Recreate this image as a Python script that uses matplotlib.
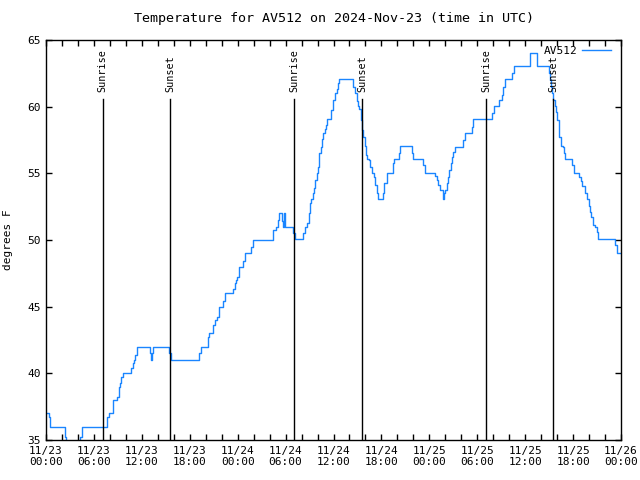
import numpy as np
import matplotlib
matplotlib.use('Agg')
import matplotlib.pyplot as plt

# Temperature readings: hours since 2024-11-23 00:00 UTC, degrees F
hours = [0.00, 0.38, 0.50, 2.34, 2.50, 4.26, 4.55, 7.68, 7.93, 8.43,
         8.93, 9.10, 9.27, 9.43, 9.68, 10.68, 10.85, 11.02, 11.18, 11.36,
         11.43, 13.06, 13.15, 13.27, 13.36, 15.44, 15.62, 19.20, 19.37, 20.32,
         20.45, 20.95, 21.20, 21.37, 21.63, 21.70, 22.20, 22.41, 23.45, 23.67,
         23.79, 23.96, 24.13, 24.20, 24.71, 24.96, 25.67, 25.92, 28.46, 28.76,
         29.01, 29.21, 29.51, 29.63, 29.80, 29.93, 30.97, 31.18, 32.22, 32.47,
         32.72, 32.89, 33.06, 33.22, 33.39, 33.56, 33.72, 33.90, 34.06, 34.22,
         34.40, 34.56, 34.72, 34.90, 35.06, 35.19, 35.69, 35.98, 36.19, 36.40,
         36.56, 36.73, 38.48, 38.73, 38.90, 39.03, 39.23, 39.41, 39.57, 39.73,
         39.91, 40.07, 40.24, 40.41, 40.57, 40.78, 41.07, 41.23, 41.41, 41.53,
         42.24, 42.36, 42.66, 43.41, 43.58, 44.17, 44.29, 45.79, 45.99, 47.25,
         47.50, 48.71, 48.96, 49.09, 49.34, 49.67, 49.75, 49.87, 50.00, 50.17,
         50.34, 50.50, 50.68, 50.84, 51.00, 51.21, 52.26, 52.50, 53.38, 53.51,
         55.81, 56.10, 56.76, 57.10, 57.26, 57.51, 58.31, 58.60, 60.61, 61.52,
         62.95, 63.11, 63.24, 63.36, 63.52, 63.70, 63.86, 64.03, 64.20, 64.28,
         64.45, 64.70, 64.86, 65.03, 65.28, 65.83, 66.12, 66.78, 66.95, 67.12,
         67.53, 67.78, 67.95, 68.12, 68.28, 68.45, 68.78, 68.96, 69.16, 71.25,
         71.54, 71.88]
temps = [37.0, 36.7, 36.0, 35.2, 34.5, 35.25, 36.0, 36.7, 37.0, 38.0,
         38.25, 38.95, 39.3, 39.75, 40.0, 40.4, 40.75, 41.0, 41.4, 41.7,
         42.0, 41.5, 41.0, 41.5, 42.0, 41.5, 41.0, 41.5, 42.0, 42.75,
         43.0, 43.6, 44.0, 44.25, 44.75, 45.0, 45.4, 46.0, 46.3, 46.75,
         47.0, 47.25, 47.75, 48.0, 48.4, 49.0, 49.5, 50.0, 50.75, 51.0,
         51.5, 52.0, 51.4, 51.0, 52.0, 51.0, 50.5, 50.05, 50.5, 51.0,
         51.3, 52.0, 52.75, 53.05, 53.5, 53.9, 54.5, 55.0, 55.5, 56.5,
         57.0, 57.6, 58.0, 58.3, 58.6, 59.05, 59.75, 60.5, 61.05, 61.3,
         61.75, 62.05, 61.5, 61.0, 60.4, 60.05, 59.8, 59.0, 58.25, 57.75,
         57.05, 56.4, 56.1, 56.0, 55.5, 55.0, 54.75, 54.1, 53.5, 53.05,
         53.5, 54.25, 55.0, 55.75, 56.05, 56.5, 57.05, 56.5, 56.1, 55.6,
         55.05, 54.8, 54.5, 54.1, 53.75, 53.4, 53.05, 53.5, 53.75, 54.25,
         54.75, 55.25, 55.75, 56.25, 56.6, 57.0, 57.5, 58.0, 58.5, 59.05,
         59.55, 60.05, 60.5, 60.9, 61.5, 62.05, 62.5, 63.05, 64.05, 63.05,
         62.5, 62.0, 61.5, 61.0, 60.5, 60.05, 59.6, 59.0, 58.5, 57.75,
         57.05, 56.95, 56.55, 56.1, 56.05, 55.6, 55.05, 54.75, 54.4, 54.05,
         53.5, 53.05, 52.55, 52.1, 51.75, 51.1, 51.0, 50.6, 50.05, 49.6,
         49.05, 49.05]

sunrise = [7.08, 31.09, 55.10]
sunset = [15.55, 39.58, 63.53]

tick_hours = np.arange(0, 73, 2)
tick_labels = ['11/23\n00:00', '11/23\n06:00', '11/23\n12:00', '11/23\n18:00',
               '11/24\n00:00', '11/24\n06:00', '11/24\n12:00', '11/24\n18:00',
               '11/25\n00:00', '11/25\n06:00', '11/25\n12:00', '11/25\n18:00',
               '11/26\n00:00']

plt.rcParams['font.family'] = 'DejaVu Sans Mono'
plt.rcParams['font.size'] = 8

fig = plt.figure(figsize=(6.4, 4.8), dpi=100)
ax = fig.add_axes([46 / 640, 40 / 480, 575 / 640, 400 / 480])

ax.plot(hours, temps, drawstyle='steps-post', color='#1a85ff', lw=1.0, label='AV512')

for h in sunrise:
    ax.axvline(h, ymin=0, ymax=0.8525, color='black', lw=1)
    ax.text(h, 0.87, 'Sunrise', rotation=90, ha='center', va='bottom', fontsize=7.3,
            transform=ax.get_xaxis_transform())
for h in sunset:
    ax.axvline(h, ymin=0, ymax=0.8525, color='black', lw=1)
    ax.text(h, 0.87, 'Sunset', rotation=90, ha='center', va='bottom', fontsize=7.3,
            transform=ax.get_xaxis_transform())

ax.set_xlim(0, 72)
ax.set_ylim(35, 65)
ax.set_xticks(tick_hours)
ax.set_xticklabels([tick_labels[i // 3] if i % 3 == 0 else '' for i in range(len(tick_hours))])
ax.set_yticks(np.arange(35, 66, 5))
ax.tick_params(direction='in', top=True, right=True, length=4, width=1, pad=4)
for s in ax.spines.values():
    s.set_linewidth(1)

ax.set_ylabel('degrees F', labelpad=10)
ax.set_title('Temperature for AV512 on 2024-Nov-23 (time in UTC)', pad=13)
ax.legend(loc='upper right', bbox_to_anchor=(0.99, 0.997), frameon=False,
          markerfirst=False, handlelength=2.6, handletextpad=0.4,
          borderaxespad=0.0, fontsize=8)

fig.savefig('out.png', dpi=100)
